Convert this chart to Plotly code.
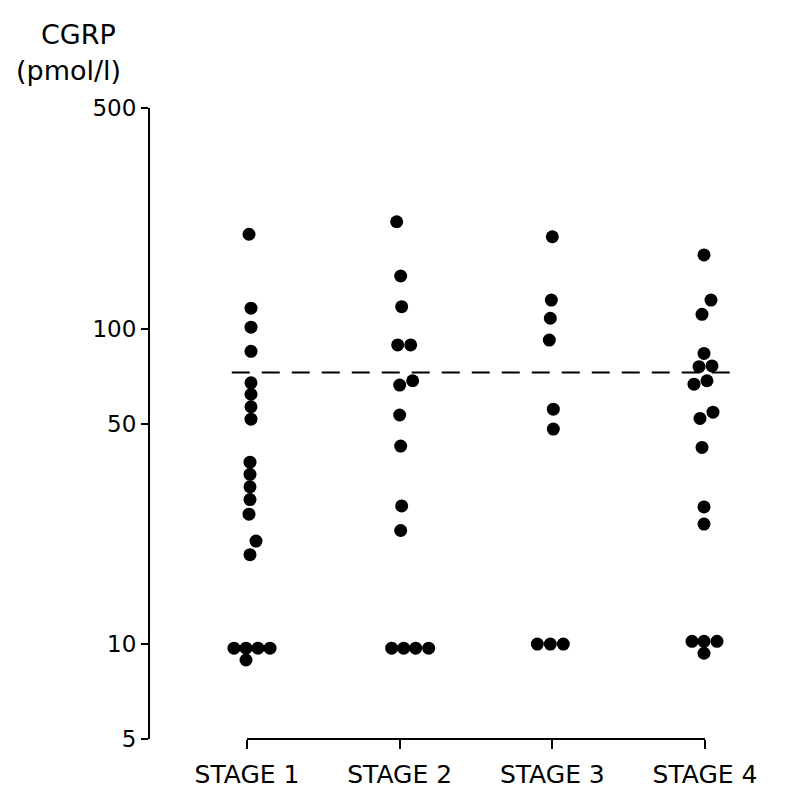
import plotly.graph_objects as go
import math

# ---- data (CGRP, pmol/l) ----
categories = ["STAGE 1", "STAGE 2", "STAGE 3", "STAGE 4"]

stage1 = [199, 116, 101, 84.7, 67.3, 61.9, 56.5, 51.6, 37.7, 34.5, 31.5, 28.7, 25.8,
          21.2, 19.2, 9.7, 9.7, 9.7, 9.7, 8.9]
stage2 = [218, 146.7, 117.3, 88.7, 88.7, 68.3, 66.2, 53.2, 42.4, 27.4, 22.9,
          9.7, 9.7, 9.7, 9.7]
stage3 = [195.4, 123.1, 107.8, 91.9, 55.5, 48.0, 10.0, 10.0, 10.0]
stage4 = [171.1, 123.1, 110.9, 83.4, 75.7, 76.1, 68.3, 66.6, 54.3, 51.9, 42.0, 27.2, 24.0,
          10.2, 10.2, 10.2, 9.35]

reference_level = 72.5

y_tick_vals = [5, 10, 50, 100, 500]
y_tick_text = ["5", "10", "50", "100", "500"]

# horizontal spread of the dot columns (in 1/SPACING of category spacing)
jitter1 = [2, 4, 4, 4, 4, 4, 4, 4, 3, 3, 3, 3, 2, 9, 3, -13, -1, 11, 23, -1]
jitter2 = [-3, 1, 2, -2, 11, 13, 0, 0, 1, 2, 1, -8, 4, 16, 29]
jitter3 = [0, -1, -2, -3, 1, 1, -15, -2, 11]
jitter4 = [-1, 6, -3, -1, -6, 7, 2, -11, 8, -5, -3, -1, -1, -13, -1, 12, -1]
SPACING = 152.7

series = [stage1, stage2, stage3, stage4]
jitters = [jitter1, jitter2, jitter3, jitter4]

fig = go.Figure()
for i, (vals, jit) in enumerate(zip(series, jitters)):
    xs = [i + 1 + j / SPACING for j in jit]
    fig.add_trace(go.Scatter(
        x=xs, y=vals, mode="markers",
        marker=dict(size=13, color="black", line=dict(width=0)),
        showlegend=False, name=categories[i],
    ))

FONT = "DejaVu Sans"

fig.update_layout(
    width=792, height=792,
    margin=dict(l=150, r=32, t=108, b=53, autoexpand=False),
    paper_bgcolor="white", plot_bgcolor="white",
    font=dict(family=FONT, color="black"),
    xaxis=dict(
        range=[0.3646, 4.3603],
        tickvals=[1, 2, 3, 4], ticktext=categories,
        ticks="outside", ticklen=9, tickwidth=2, tickcolor="black",
        showline=False, showgrid=False, zeroline=False,
        tickfont=dict(family=FONT, size=25, color="black"),
        ticklabelstandoff=4, automargin=False,
    ),
    yaxis=dict(
        type="log",
        range=[math.log10(5), math.log10(500)],
        tickvals=y_tick_vals, ticktext=y_tick_text,
        ticks="outside", ticklen=7, tickwidth=2, tickcolor="black",
        showline=True, linewidth=2, linecolor="black",
        showgrid=False, zeroline=False, automargin=False,
        tickfont=dict(family=FONT, size=23, color="black"),
        ticklabelstandoff=0,
    ),
    shapes=[
        dict(type="line", xref="x", yref="paper", x0=1, x1=4, y0=0, y1=0,
             line=dict(color="black", width=2)),
        dict(type="line", xref="x", yref="y", x0=0.9, x1=4.23,
             y0=reference_level, y1=reference_level,
             line=dict(color="black", width=2, dash="18px,12px")),
    ],
    annotations=[
        dict(text="CGRP", xref="paper", yref="paper", x=-0.118, y=1.1157,
             showarrow=False, xanchor="center", yanchor="middle",
             font=dict(family=FONT, size=27, color="black")),
        dict(text="(pmol/l)", xref="paper", yref="paper", x=-0.134, y=1.0602,
             showarrow=False, xanchor="center", yanchor="middle",
             font=dict(family=FONT, size=27, color="black")),
    ],
)

fig.write_html("out.html")
